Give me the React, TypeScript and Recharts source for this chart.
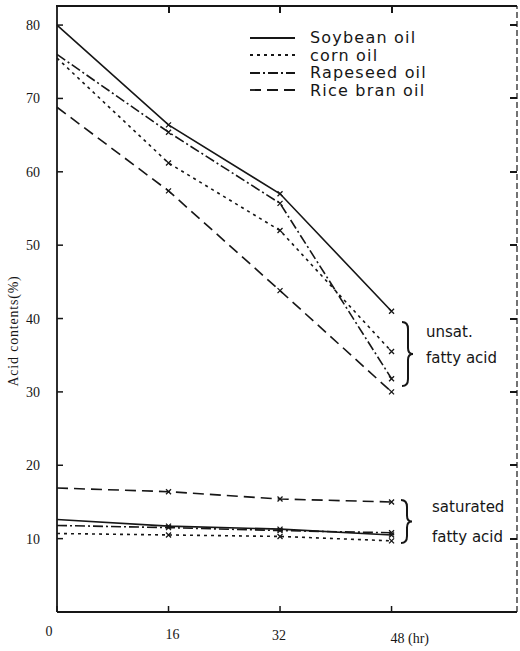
import React from "react";
import { LineChart, Line, XAxis, YAxis, Legend, ReferenceLine } from "recharts";

// time points (hr) and axis ticks
const hours = [0, 16, 32, 48];
const yTicks = [10, 20, 30, 40, 50, 60, 70, 80];
const topTicks = [16, 32, 48];
const X_MAX = 66;
const Y_MAX = 82.6;

// unsaturated fatty acid content (%)
const soybeanUnsat = [80, 66.4, 57, 41];
const cornUnsat = [75.5, 61.2, 52, 35.5];
const rapeseedUnsat = [76, 65.4, 55.7, 31.8];
const riceBranUnsat = [68.8, 57.4, 43.8, 30];

// saturated fatty acid content (%)
const soybeanSat = [12.6, 11.7, 11.3, 10.5];
const cornSat = [10.7, 10.5, 10.3, 9.7];
const rapeseedSat = [11.8, 11.5, 11.1, 10.8];
const riceBranSat = [16.9, 16.4, 15.4, 15];

const oilNames = ["Soybean oil", "corn oil", "Rapeseed oil", "Rice bran oil"];

const INK = "#161616";
const dashes = [undefined, "3 4", "10 3 2 3", "11 6"];

// chart box
const W = 520;
const H = 651;
const M = { top: 6, right: 3, left: 57, bottom: 39 };
const plotW = W - M.left - M.right;
const plotH = H - M.top - M.bottom;
const px = (v: number) => M.left + (v / X_MAX) * plotW;
const py = (v: number) => M.top + plotH - (v / Y_MAX) * plotH;

const data = hours.map((hr, i) => ({
  hr,
  soyU: soybeanUnsat[i],
  cornU: cornUnsat[i],
  rapeU: rapeseedUnsat[i],
  riceU: riceBranUnsat[i],
  soyS: soybeanSat[i],
  cornS: cornSat[i],
  rapeS: rapeseedSat[i],
  riceS: riceBranSat[i],
}));

const unsatKeys = ["soyU", "cornU", "rapeU", "riceU"];
const satKeys = ["soyS", "cornS", "rapeS", "riceS"];

const tickFont = { fontFamily: "Liberation Serif", fontSize: 14, fill: INK };
const handFont = "DejaVu Sans";

function LeftTick(props: any) {
  const { x, y, payload } = props;
  return (
    <g>
      <line x1={x} x2={x + 6} y1={y} y2={y} stroke={INK} strokeWidth={1.5} />
      <text x={x - 17} y={y + 5} textAnchor="end" {...tickFont}>
        {payload.value}
      </text>
    </g>
  );
}

const labelShift: Record<number, [number, number]> = {
  0: [-8, 24],
  16: [4, 27],
  32: [-1, 28],
  48: [0, 31],
};

function BottomTick(props: any) {
  const { x, y, payload } = props;
  const v = payload.value as number;
  const [dx, dy] = labelShift[v] || [0, 27];
  return (
    <g>
      <line x1={x} x2={x} y1={y} y2={y - 6} stroke={INK} strokeWidth={1.5} />
      {v === 48 ? (
        <text x={x - 1} y={y + dy} textAnchor="start" {...tickFont}>
          48 (hr)
        </text>
      ) : (
        <text x={x + dx} y={y + dy} textAnchor="middle" {...tickFont}>
          {v}
        </text>
      )}
    </g>
  );
}

function renderCross(props: any) {
  const { cx, cy, index, dataKey } = props;
  if (index === 0 || cx == null || cy == null) return <g key={`${dataKey}-${index}`} />;
  const s = 2.5;
  return (
    <path
      key={`${dataKey}-${index}`}
      d={`M${cx - s},${cy - s}L${cx + s},${cy + s}M${cx + s},${cy - s}L${cx - s},${cy + s}`}
      stroke={INK}
      strokeWidth={1.3}
      fill="none"
    />
  );
}

function OilLegend() {
  return (
    <div style={{ fontFamily: handFont, fontSize: 16, color: INK, letterSpacing: 1.2 }}>
      {oilNames.map((name, i) => (
        <div key={name} style={{ display: "flex", alignItems: "center", height: 17.5 }}>
          <svg width={62} height={10}>
            <line x1={2} x2={47} y1={5} y2={5} stroke={INK} strokeWidth={1.8} strokeDasharray={dashes[i]} />
          </svg>
          <span style={{ lineHeight: "17px" }}>{name}</span>
        </div>
      ))}
    </div>
  );
}

function YLabel(props: any) {
  const vb = props.viewBox || { x: 0, y: 5, height: 607 };
  const cx = vb.x + 18;
  const cy = vb.y + vb.height / 2 + 22;
  return (
    <text
      x={cx}
      y={cy}
      transform={`rotate(-90 ${cx} ${cy})`}
      textAnchor="middle"
      fontFamily="Liberation Serif"
      fontSize={14}
      letterSpacing={0.8}
      fill={INK}
    >
      Acid contents(%)
    </text>
  );
}

function Brace({ x, y1, y2 }: { x: number; y1: number; y2: number }) {
  const m = (y1 + y2) / 2;
  return (
    <path
      d={`M${x - 4},${y1} Q${x + 2},${y1} ${x + 2},${y1 + 7} L${x + 2},${m - 6} Q${x + 2},${m} ${x + 7},${m} Q${x + 2},${m} ${x + 2},${m + 6} L${x + 2},${y2 - 7} Q${x + 2},${y2} ${x - 4},${y2}`}
      stroke={INK}
      strokeWidth={2}
      fill="none"
    />
  );
}

const frameBit = (left: number, top: number, width: number, height: number, key: string) => (
  <div key={key} style={{ position: "absolute", left, top, width, height, background: INK }} />
);

export default function App() {
  return (
    <div style={{ position: "absolute", left: 0, top: 0, width: W, height: H, background: "#fff" }}>
      <LineChart width={W} height={H} data={data} margin={{ top: M.top, right: M.right, bottom: 0, left: 0 }}>
        <XAxis
          dataKey="hr"
          type="number"
          domain={[0, X_MAX]}
          ticks={hours}
          height={M.bottom}
          tickSize={0}
          tickMargin={0}
          tick={<BottomTick />}
          axisLine={{ stroke: INK, strokeWidth: 2.2 }}
          tickLine={false}
        />
        <YAxis
          type="number"
          domain={[0, Y_MAX]}
          ticks={yTicks}
          width={M.left}
          tickSize={0}
          tickMargin={0}
          tick={<LeftTick />}
          axisLine={{ stroke: INK, strokeWidth: 1.8 }}
          tickLine={false}
          label={<YLabel />}
        />
        <ReferenceLine x={X_MAX} stroke={INK} strokeWidth={1.2} strokeDasharray="6 3" />
        <Legend
          layout="vertical"
          align="center"
          verticalAlign="middle"
          content={<OilLegend />}
          wrapperStyle={{ position: "absolute", left: 248, top: 29, width: 200 }}
        />
        {unsatKeys.map((k, i) => (
          <Line
            key={k}
            dataKey={k}
            name={oilNames[i]}
            stroke={INK}
            strokeWidth={1.6}
            strokeDasharray={dashes[i]}
            dot={renderCross}
            activeDot={false}
            isAnimationActive={false}
          />
        ))}
        {satKeys.map((k, i) => (
          <Line
            key={k}
            dataKey={k}
            name={oilNames[i] + " (sat.)"}
            legendType="none"
            stroke={INK}
            strokeWidth={1.6}
            strokeDasharray={dashes[i]}
            dot={renderCross}
            activeDot={false}
            isAnimationActive={false}
          />
        ))}
      </LineChart>
      {/* frame: top border and inward ticks on top / right edges */}
      {frameBit(px(0) - 1, py(Y_MAX) - 1, plotW + 1, 2, "top")}
      {topTicks.map((t) => frameBit(px(t) - 1, py(Y_MAX), 2, 7, `tt${t}`))}
      {yTicks.map((t) => frameBit(px(X_MAX) - 7, py(t) - 1, 7, 2, `rt${t}`))}
      <svg width={W} height={H} style={{ position: "absolute", left: 0, top: 0, pointerEvents: "none" }}>
        <Brace x={406} y1={322} y2={386} />
        <text x={426} y={337} fontFamily={handFont} fontSize={15} fill={INK}>
          unsat.
        </text>
        <text x={426} y={363} fontFamily={handFont} fontSize={15} fill={INK}>
          fatty acid
        </text>
        <Brace x={405} y1={500} y2={543} />
        <text x={432} y={512} fontFamily={handFont} fontSize={15} fill={INK}>
          saturated
        </text>
        <text x={432} y={542} fontFamily={handFont} fontSize={15} fill={INK}>
          fatty acid
        </text>
      </svg>
    </div>
  );
}
